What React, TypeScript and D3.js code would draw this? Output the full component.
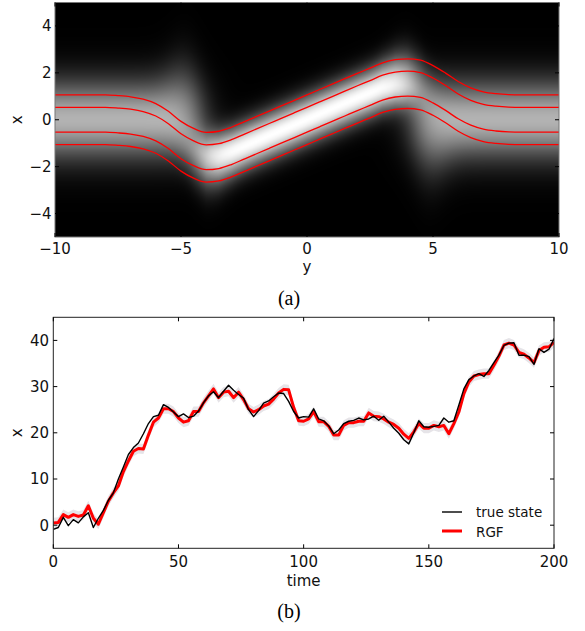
import React, { useMemo } from "react";
import * as d3 from "d3";

const W = 585;
const H = 631;

// ---------- Panel (a) data ----------
const A_XTICKS = [-10, -5, 0, 5, 10];
const A_YTICKS = [-4, -2, 0, 2, 4];
// mean curve knots (horizontal axis "y", vertical axis "x")
const MEAN_Y = [-10, -9.5, -9, -8.5, -8, -7.5, -7, -6.5, -6, -5.5, -5, -4.5, -4, -3.5, -3, -2.5, -2, -1.5, -1, -0.5, 0,
  0.5, 1, 1.5, 2, 2.5, 3, 3.5, 4, 4.5, 5, 5.5, 6, 6.5, 7, 7.5, 8, 8.5, 9, 9.5, 10];
const MEAN_X = [0, 0, 0, 0, 0, -0.03, -0.08, -0.18, -0.37, -0.7, -1.13, -1.43, -1.6, -1.55, -1.38, -1.15, -0.92, -0.69, -0.46, -0.23, 0,
  0.23, 0.46, 0.69, 0.92, 1.14, 1.37, 1.5, 1.54, 1.48, 1.25, 0.93, 0.57, 0.3, 0.13, 0.05, 0.01, 0, 0, 0, 0];
const CONTOUR_OFFSETS = [1.06, 0.53, -0.53, -1.06];
// density model parameters
const FLAT_AMP = 0.7;
const FLAT_SIGMA = 1.15;
const FLAT_SIGMA_KINK = 0.35;
const SLOPE_AMP = 1.0;
const SLOPE_SIGMA = 0.7;
const SLOPE_SIGMA_KINK = 0.2;
const SWITCH_AT = 4.3;
const SWITCH_WIDTH = 0.35;

// ---------- Panel (b) data ----------
const TIME = d3.range(0, 201, 2);
const TRUE_STATE = [
  -0.9, -0.5, 1.7, -0.1, 1.2, 0.5, 1.8, 2.7, -0.5, 1.5,
  3.2, 5.4, 7.0, 10.0, 12.6, 15.3, 16.8, 17.8, 19.8, 22.0,
  23.5, 23.8, 26.1, 25.5, 24.5, 23.5, 24.1, 23.3, 23.6, 24.7,
  26.5, 28.0, 28.9, 27.6, 29.0, 30.3, 29.2, 28.3, 27.5, 25.0,
  23.5, 24.8, 26.4, 26.9, 27.8, 28.6, 28.5, 26.8, 24.6, 23.2,
  23.5, 23.4, 25.2, 23.0, 22.6, 21.5, 19.8, 20.6, 22.0, 22.5,
  22.7, 23.2, 22.8, 23.0, 23.6, 22.7, 23.6, 22.3, 21.0, 19.9,
  18.5, 17.6, 20.0, 22.6, 21.3, 21.2, 21.4, 21.6, 23.2, 22.3,
  22.6, 26.0, 29.5, 31.5, 32.3, 32.8, 32.2, 33.5, 35.2, 36.8,
  38.9, 39.4, 39.5, 36.8, 36.8, 36.5, 34.8, 38.2, 37.4, 38.1,
  40.4,
];
const RGF = [
  0.5, 0.6, 2.3, 1.7, 2.3, 1.9, 2.2, 4.2, 1.5, 0.2,
  2.7, 5.2, 7.0, 8.5, 11.6, 13.9, 16.0, 16.6, 16.5, 19.5,
  22.3, 23.2, 25.2, 25.2, 24.6, 23.2, 22.3, 22.6, 24.6, 24.6,
  26.5, 28.0, 29.5, 27.6, 28.8, 29.0, 27.6, 28.8, 27.2, 25.2,
  24.5, 25.0, 25.8, 26.2, 27.3, 28.6, 29.4, 29.3, 25.5, 22.6,
  22.5, 23.0, 24.6, 22.4, 22.4, 21.4, 19.5, 19.5, 21.6, 22.2,
  22.2, 22.5, 22.5, 24.3, 23.6, 23.5, 23.0, 22.3, 21.8, 21.0,
  19.7, 18.8, 20.2, 22.0, 21.0, 21.0, 21.6, 21.3, 21.6, 19.8,
  22.0, 24.5, 28.5, 31.0, 32.3, 32.6, 32.8, 32.8, 34.6, 36.6,
  39.0, 39.4, 39.0, 37.4, 37.0, 36.2, 35.2, 37.8, 38.5, 38.6,
  39.6,
];
const RGF_SPREAD = 1.1;
const B_XTICKS = [0, 50, 100, 150, 200];
const B_YTICKS = [0, 10, 20, 30, 40];

const FONT = "DejaVu Sans";

export default function App() {
  // panel (a) geometry
  const aL = 55, aR = 559, aT = 2.5, aB = 237;
  const xA = d3.scaleLinear().domain([-10, 10]).range([aL, aR]);
  const yA = d3.scaleLinear().domain([-5, 5]).range([aB, aT]);

  // panel (b) geometry
  const bL = 53.3, bR = 554, bT = 317.3, bB = 548.3;
  const xB = d3.scaleLinear().domain([0, 200]).range([bL, bR]);
  const yB = d3.scaleLinear().domain([-5, 45]).range([bB, bT]);

  const meanAt = useMemo(() => d3.scaleLinear().domain(MEAN_Y).range(MEAN_X), []);

  const heatUrl = useMemo(() => {
    const w = Math.round(aR - aL);
    const h = Math.round(aB - aT);
    const canvas = document.createElement("canvas");
    canvas.width = w;
    canvas.height = h;
    const ctx = canvas.getContext("2d");
    if (!ctx) return "";
    const img = ctx.createImageData(w, h);
    for (let i = 0; i < w; i++) {
      const yv = xA.invert(aL + i + 0.5);
      const c = meanAt(yv);
      const ay = Math.abs(yv);
      const wf = 1 / (1 + Math.exp(-(ay - SWITCH_AT) / SWITCH_WIDTH));
      const kink1 = Math.exp(-Math.pow((ay - 4.8) / 0.9, 2));
      const kink2 = Math.exp(-Math.pow((ay - 4.0) / 0.9, 2));
      for (let j = 0; j < h; j++) {
        const xv = yA.invert(aT + j + 0.5);
        // flat band widens only on the side away from the sloped band
        const s1 = FLAT_SIGMA + (xv * yv < 0 ? FLAT_SIGMA_KINK * kink1 : 0);
        const f = FLAT_AMP * Math.exp(-(xv * xv) / (2 * s1 * s1));
        const d = xv - c;
        // sloped band widens on the outer side of the bend
        const s2 = SLOPE_SIGMA + (d * yv > 0 ? SLOPE_SIGMA_KINK * kink2 : 0);
        const s = SLOPE_AMP * Math.exp(-(d * d) / (2 * s2 * s2));
        let v = wf * f + (1 - wf) * s;
        v = Math.max(0, Math.min(1, v));
        const g = Math.round(v * 255);
        const k = (j * w + i) * 4;
        img.data[k] = g;
        img.data[k + 1] = g;
        img.data[k + 2] = g;
        img.data[k + 3] = 255;
      }
    }
    ctx.putImageData(img, 0, 0);
    return canvas.toDataURL();
  }, []);

  const contourLine = (off: number) =>
    d3.line<number>()
      .x((_, i) => xA(MEAN_Y[i]))
      .y((m) => yA(m + off))
      .curve(d3.curveMonotoneX)(MEAN_X) || "";

  const trueLine = d3.line<number>().x((_, i) => xB(TIME[i])).y((v) => yB(v))(TRUE_STATE) || "";
  const rgfLine = d3.line<number>().x((_, i) => xB(TIME[i])).y((v) => yB(v))(RGF) || "";
  const rgfBand = d3.area<number>()
    .x((_, i) => xB(TIME[i]))
    .y0((v) => yB(v - RGF_SPREAD))
    .y1((v) => yB(v + RGF_SPREAD))(RGF) || "";

  const tickLen = 4;
  const fmt = (v: number) => (v < 0 ? "\u2212" + Math.abs(v) : String(v));

  return (
    <svg width={W} height={H} style={{ position: "absolute", left: 0, top: 0, background: "#fff" }} fontFamily={FONT}>
      <defs>
        <clipPath id="clipA">
          <rect x={aL} y={aT} width={aR - aL} height={aB - aT} />
        </clipPath>
        <clipPath id="clipB">
          <rect x={bL} y={bT} width={bR - bL} height={bB - bT} />
        </clipPath>
      </defs>

      {/* ---------- Panel (a) ---------- */}
      <image href={heatUrl} x={aL} y={aT} width={aR - aL} height={aB - aT} preserveAspectRatio="none" />
      <g clipPath="url(#clipA)">
        {CONTOUR_OFFSETS.map((o) => (
          <path key={o} d={contourLine(o)} fill="none" stroke="#ff0000" strokeWidth={1.3} />
        ))}
      </g>
      <rect x={aL} y={aT} width={aR - aL} height={aB - aT} fill="none" stroke="#777" strokeWidth={1} />
      {A_XTICKS.map((t) => (
        <g key={"ax" + t}>
          <line x1={xA(t)} x2={xA(t)} y1={aB} y2={aB - tickLen} stroke="#000" />
          <line x1={xA(t)} x2={xA(t)} y1={aT} y2={aT + tickLen} stroke="#000" />
          <text x={xA(t)} y={253.5} fontSize={15} textAnchor="middle" fill="#111">{fmt(t)}</text>
        </g>
      ))}
      {A_YTICKS.map((t) => (
        <g key={"ay" + t}>
          <line x1={aL} x2={aL + tickLen} y1={yA(t)} y2={yA(t)} stroke="#000" />
          <line x1={aR} x2={aR - tickLen} y1={yA(t)} y2={yA(t)} stroke="#000" />
          <text x={51.5} y={yA(t)} dy="0.36em" fontSize={15} textAnchor="end" fill="#111">{fmt(t)}</text>
        </g>
      ))}
      <text x={xA(0)} y={272} fontSize={15} textAnchor="middle" fill="#111">y</text>
      <text transform={`translate(22,${yA(0)}) rotate(-90)`} fontSize={15} textAnchor="middle" fill="#111">x</text>
      <text x={289} y={305} fontSize={20} fontFamily="Liberation Serif" textAnchor="middle" fill="#000">(a)</text>

      {/* ---------- Panel (b) ---------- */}
      <g clipPath="url(#clipB)">
        <path d={rgfBand} fill="#e6e4e8" stroke="none" />
        <path d={rgfLine} fill="none" stroke="#ff0000" strokeWidth={3} strokeLinejoin="round" />
        <path d={trueLine} fill="none" stroke="#000" strokeWidth={1.4} strokeLinejoin="round" />
      </g>
      <rect x={bL} y={bT} width={bR - bL} height={bB - bT} fill="none" stroke="#222" strokeWidth={1} />
      {B_XTICKS.map((t) => (
        <g key={"bx" + t}>
          <line x1={xB(t)} x2={xB(t)} y1={bB} y2={bB - tickLen} stroke="#000" />
          <line x1={xB(t)} x2={xB(t)} y1={bT} y2={bT + tickLen} stroke="#000" />
          <text x={xB(t)} y={567} fontSize={15} textAnchor="middle" fill="#111">{fmt(t)}</text>
        </g>
      ))}
      {B_YTICKS.map((t) => (
        <g key={"by" + t}>
          <line x1={bL} x2={bL + tickLen} y1={yB(t)} y2={yB(t)} stroke="#000" />
          <line x1={bR} x2={bR - tickLen} y1={yB(t)} y2={yB(t)} stroke="#000" />
          <text x={49} y={yB(t)} dy="0.36em" fontSize={15} textAnchor="end" fill="#111">{fmt(t)}</text>
        </g>
      ))}
      <text x={xB(100)} y={586} fontSize={15} textAnchor="middle" fill="#111">time</text>
      <text transform={`translate(22,${yB(20)}) rotate(-90)`} fontSize={15} textAnchor="middle" fill="#111">x</text>

      {/* legend */}
      <line x1={442} x2={462} y1={512} y2={512} stroke="#000" strokeWidth={1.4} />
      <text x={476} y={517} fontSize={13.5} fill="#111">true state</text>
      <line x1={442} x2={462} y1={531} y2={531} stroke="#ff0000" strokeWidth={3} />
      <text x={476} y={537} fontSize={13.5} fill="#111">RGF</text>

      <text x={289} y={618} fontSize={20} fontFamily="Liberation Serif" textAnchor="middle" fill="#000">(b)</text>
    </svg>
  );
}
